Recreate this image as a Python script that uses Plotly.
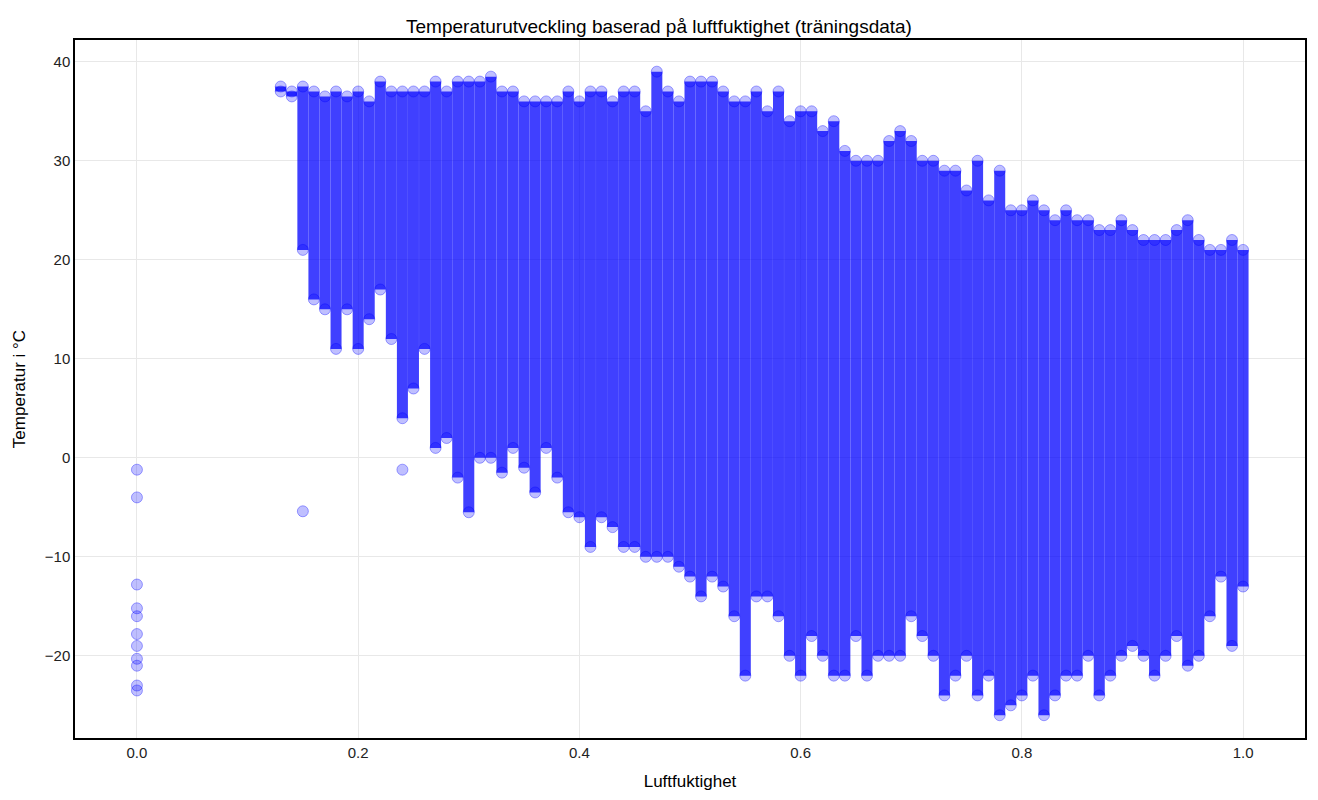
import plotly.graph_objects as go

# humidity columns with approximate temperature range
humidity = [0.13, 0.14, 0.15, 0.16, 0.17, 0.18, 0.19, 0.20, 0.21, 0.22, 0.23, 0.24, 0.25, 0.26,
            0.27, 0.28, 0.29, 0.30, 0.31, 0.32, 0.33, 0.34, 0.35, 0.36, 0.37, 0.38, 0.39, 0.40,
            0.41, 0.42, 0.43, 0.44, 0.45, 0.46, 0.47, 0.48, 0.49, 0.50, 0.51, 0.52, 0.53, 0.54,
            0.55, 0.56, 0.57, 0.58, 0.59, 0.60, 0.61, 0.62, 0.63, 0.64, 0.65, 0.66, 0.67, 0.68,
            0.69, 0.70, 0.71, 0.72, 0.73, 0.74, 0.75, 0.76, 0.77, 0.78, 0.79, 0.80, 0.81, 0.82,
            0.83, 0.84, 0.85, 0.86, 0.87, 0.88, 0.89, 0.90, 0.91, 0.92, 0.93, 0.94, 0.95, 0.96,
            0.97, 0.98, 0.99, 1.00]
temp_min = [37, 36.5, 21, 16, 15, 11, 15, 11, 14, 17, 12, 4, 7, 11,
            1, 2, -2, -5.5, 0, 0, -1.5, 1, -1, -3.5, 1, -2, -5.5, -6,
            -9, -6, -7, -9, -9, -10, -10, -10, -11, -12, -14, -12, -13, -16,
            -22, -14, -14, -16, -20, -22, -18, -20, -22, -22, -18, -22, -20, -20,
            -20, -16, -18, -20, -24, -22, -20, -24, -22, -26, -25, -24, -22, -26,
            -24, -22, -22, -20, -24, -22, -20, -19, -20, -22, -20, -18, -21, -20,
            -16, -12, -19, -13]
temp_max = [37.5, 37, 37.5, 37, 36.5, 37, 36.5, 37, 36, 38, 37, 37, 37, 37,
            38, 37, 38, 38, 38, 38.5, 37, 37, 36, 36, 36, 36, 37, 36,
            37, 37, 36, 37, 37, 35, 39, 37, 36, 38, 38, 38, 37, 36,
            36, 37, 35, 37, 34, 35, 35, 33, 34, 31, 30, 30, 30, 32,
            33, 32, 30, 30, 29, 29, 27, 30, 26, 29, 25, 25, 26, 25,
            24, 25, 24, 24, 23, 23, 24, 23, 22, 22, 22, 23, 24, 22,
            21, 21, 22, 21]

# isolated points
extra_h = [0.0] * 11 + [0.15, 0.24]
extra_t = [-1.2, -4, -12.8, -15.2, -16, -17.8, -19, -20.3, -21, -23, -23.5, -5.4, -1.2]

xs, ys = [], []
for h, lo, hi in zip(humidity, temp_min, temp_max):
    xs += [h, h, None]
    ys += [lo, hi, None]

fig = go.Figure()
fig.add_trace(go.Scatter(x=xs, y=ys, mode="lines",
                         line=dict(color="rgba(0,0,255,0.75)", width=11),
                         hoverinfo="skip", showlegend=False))
fig.add_trace(go.Scatter(x=humidity + humidity + extra_h,
                         y=temp_min + temp_max + extra_t, mode="markers",
                         marker=dict(color="rgba(0,0,255,0.25)", size=11,
                                     line=dict(color="rgba(0,0,255,0.35)", width=1)),
                         showlegend=False))

axis_style = dict(showline=True, linecolor="black", linewidth=1.5, mirror=True,
                  showgrid=True, gridcolor="#e8e8e8", zeroline=False, ticks="",
                  automargin=False, tickfont=dict(size=15, color="#222"))
fig.update_layout(
    width=1302, height=790,
    title=dict(text="Temperaturutveckling baserad på luftfuktighet (träningsdata)",
               x=0.5, xanchor="center", y=0.985, font=dict(size=19, color="black")),
    font=dict(family="Liberation Sans, Arial", color="black"),
    plot_bgcolor="white", paper_bgcolor="white",
    margin=dict(l=67, r=5, t=32, b=60),
    xaxis=dict(range=[-0.056, 1.056], tickvals=[0, 0.2, 0.4, 0.6, 0.8, 1.0],
               ticktext=["0.0", "0.2", "0.4", "0.6", "0.8", "1.0"],
               title=dict(text="Luftfuktighet", font=dict(size=17)), **axis_style),
    yaxis=dict(range=[-28.3, 42.2], tickvals=[-20, -10, 0, 10, 20, 30, 40],
               ticktext=["−20", "−10", "0", "10", "20", "30", "40"],
               title=dict(text="Temperatur i °C", font=dict(size=17)), **axis_style),
)
fig.write_html("out.html")
